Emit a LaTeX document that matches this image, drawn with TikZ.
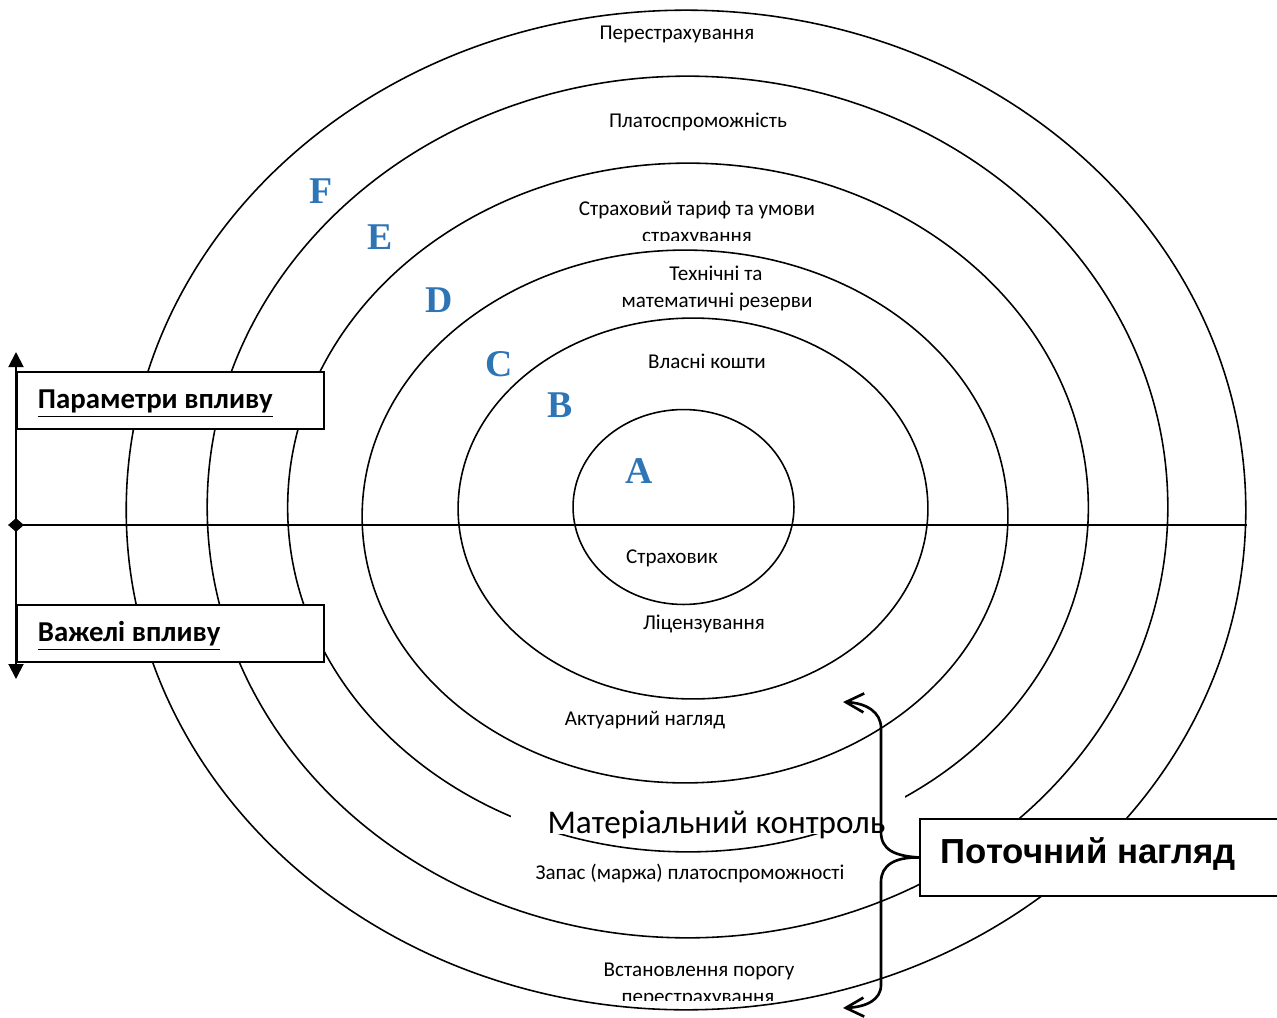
\documentclass[tikz,border=0pt]{standalone}
\usepackage{fontspec}
\setmainfont{Carlito}
\newfontfamily\letterfont{Liberation Serif}
\newfontfamily\headfont{Liberation Sans}
\usepackage{tikz}
\usetikzlibrary{arrows.meta, shapes.geometric, positioning, calc}
\usepackage{xcolor}
\definecolor{ink}    {HTML}{000000}
\definecolor{letblue}{HTML}{2E75B6}
\tikzset{
  ring/.style     = {draw=ink, line width=0.9pt, ellipse, inner sep=0pt},
  lbl/.style      = {font=\fontsize{12}{14}\selectfont, text=ink,
                     anchor=base, inner sep=0pt},
  letter/.style   = {font=\letterfont\bfseries\fontsize{21.5}{24}\selectfont,
                     text=letblue, anchor=base, inner sep=0pt},
  bigtxt/.style   = {font=\fontsize{18.9}{22}\selectfont, text=ink,
                     anchor=base, inner sep=0pt},
  sidebox/.style  = {draw=ink, line width=1.1pt, fill=white, anchor=north west,
                     minimum width=6.14cm, minimum height=1.14cm, inner xsep=0.42cm,
                     text height=0.4cm, text depth=0.06cm,
                     font=\bfseries\fontsize{16.4}{19}\selectfont},
  watchbox/.style = {sidebox, minimum width=8cm, minimum height=1.54cm,
                     text height=0.52cm, text depth=0.26cm,
                     font=\headfont\bfseries\fontsize{19.8}{24}\selectfont},
  axis/.style     = {{Triangle[length=0.3cm,width=0.3cm]}-{Triangle[length=0.3cm,width=0.3cm]},
                     line width=1.1pt, ink},
  brace/.style    = {-{Straight Barb[length=0.36cm,width=0.38cm]}, line width=1.5pt, ink},
}

\begin{document}
\begin{tikzpicture}[x=0.02cm, y=-0.02cm]
  \useasboundingbox (0,0) rectangle (1277,1017);
  \clip (0,0) rectangle (1277,1017);

  \node[lbl] (reins)   at (677,40)  {Перестрахування};
  \node[lbl] (solv)    at (698,128) {Платоспроможність};
  \node[lbl] (tarif)   at (697,215) {Страховий тариф та умови};
  \begin{scope}
    \clip (560,200) rectangle (840,240);
    \node[lbl] (tarifb) at (697,242) {страхування};
  \end{scope}
  \node[lbl] (tech)    at (716,280) {Технічні та};
  \node[lbl] (techb)   at (717,307) {математичні резерви};
  \node[lbl] (own)     at (707,368) {Власні кошти};
  \node[lbl] (insurer) at (672,563) {Страховик};
  \node[lbl] (lic)     at (704,629) {Ліцензування};
  \node[lbl] (act)     at (645,725) {Актуарний нагляд};
  \node[lbl] (margin)  at (690,879) {Запас (маржа) платоспроможності};
  \node[lbl] (thr)     at (699,976) {Встановлення порогу};
  \begin{scope}
    \clip (560,980) rectangle (840,1000);
    \node[lbl] (thrb) at (698,1003) {перестрахування};
  \end{scope}

  \foreach \n/\cx/\cy/\rx/\ry in {A/683.5/507/110.5/97.5, B/693/508.5/235/190.5,
      C/685/516.5/323/266.5, D/688/507.5/400.5/344.5,
      E/687.5/507/480.5/431, F/686/510/560/500}
    \node[ring, minimum width=\rx*0.04cm, minimum height=\ry*0.04cm] (el\n) at (\cx,\cy) {};

  \foreach \n/\x/\y in {F/321/203, E/380/249, D/439/312, C/499/376, B/560/417, A/639/483}
    \node[letter] (let\n) at (\x,\y) {\n};

  \node[diamond, draw=ink, fill=ink, inner sep=0pt,
        minimum width=0.3cm, minimum height=0.26cm] (dia) at (16,525) {};
  \draw[ink, line width=1pt] (dia.center) -- (dia.center -| elF.east);

  \fill[white] (511,795) rectangle (905,834);
  \node[bigtxt] (mat) at (716.5,833) {Матеріальний контроль};

  \node[sidebox] (params) at (16,371) {\makebox[5.3cm][l]{\underline{Параметри впливу}}};
  \node[sidebox] (levers) at (16,604) {\makebox[5.3cm][l]{\underline{Важелі впливу}}};
  \coordinate (axtop) at (16,352);
  \coordinate (axbot) at (16,679);
  \draw[axis] (axtop) -- (axbot);

  \node[watchbox] (watch) at (919,818) {\makebox[7.16cm][l]{Поточний нагляд}};
  \coordinate (uptip) at (843,702);
  \coordinate (dntip) at (843,1008);
  \draw[brace] (watch.west) .. controls (895,856) and (881,850) .. (881,832)
    -- (881,728) .. controls (881,712) and (866,703) .. (uptip);
  \draw[brace] (watch.west) .. controls (895,857) and (881,865) .. (881,882)
    -- (881,985) .. controls (881,1000) and (866,1007) .. (dntip);

\end{tikzpicture}
\end{document}
